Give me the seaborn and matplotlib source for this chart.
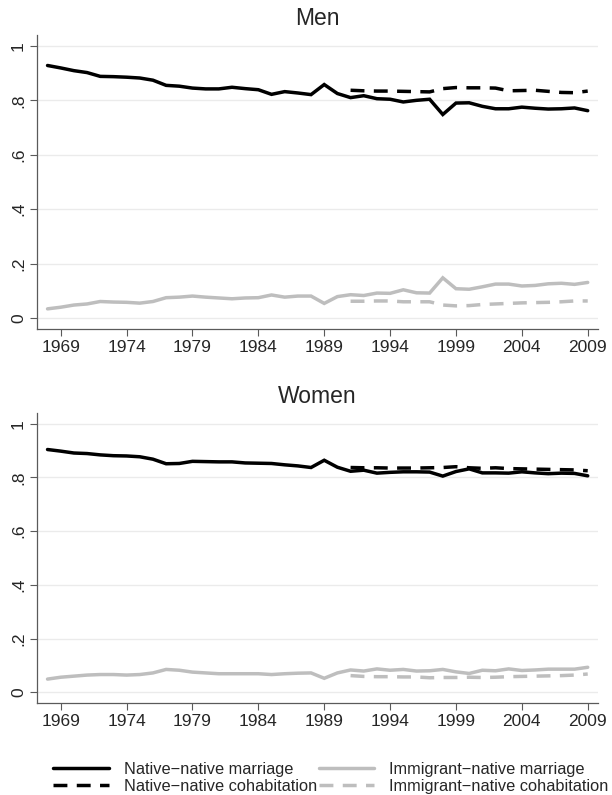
import matplotlib
matplotlib.use("Agg")
import matplotlib.pyplot as plt
import seaborn as sns
import pandas as pd
import numpy as np
from matplotlib.lines import Line2D

sns.set_style("white")
plt.rcParams["font.family"] = ["Liberation Sans", "DejaVu Sans"]

years = list(range(1968, 2010))
cohab_years = list(range(1991, 2010))

men_nn_marriage = [0.928, 0.919, 0.909, 0.902, 0.888, 0.887, 0.885, 0.882, 0.874, 0.855,
                   0.852, 0.845, 0.842, 0.842, 0.848, 0.843, 0.839, 0.822, 0.832, 0.827,
                   0.821, 0.858, 0.825, 0.810, 0.817, 0.806, 0.804, 0.794, 0.800, 0.804,
                   0.748, 0.790, 0.791, 0.778, 0.769, 0.769, 0.775, 0.771, 0.768, 0.769,
                   0.772, 0.762]
men_in_marriage = [0.034, 0.040, 0.048, 0.052, 0.061, 0.059, 0.058, 0.055, 0.061, 0.075,
                   0.077, 0.081, 0.077, 0.074, 0.071, 0.074, 0.075, 0.085, 0.077, 0.081,
                   0.081, 0.054, 0.079, 0.086, 0.083, 0.092, 0.091, 0.104, 0.093, 0.092,
                   0.148, 0.108, 0.106, 0.115, 0.125, 0.125, 0.118, 0.120, 0.126, 0.128,
                   0.124, 0.131]
men_nn_cohab = [0.837, 0.835, 0.834, 0.834, 0.833, 0.832, 0.831, 0.843, 0.847, 0.846,
                0.846, 0.845, 0.835, 0.836, 0.837, 0.833, 0.829, 0.828, 0.834]
men_in_cohab = [0.062, 0.062, 0.063, 0.063, 0.060, 0.060, 0.060, 0.048, 0.045, 0.046,
                0.050, 0.052, 0.054, 0.056, 0.057, 0.058, 0.060, 0.063, 0.063]

women_nn_marriage = [0.904, 0.898, 0.891, 0.889, 0.884, 0.881, 0.880, 0.877, 0.868, 0.851,
                     0.852, 0.860, 0.859, 0.858, 0.858, 0.854, 0.853, 0.852, 0.847, 0.843,
                     0.837, 0.864, 0.838, 0.823, 0.827, 0.816, 0.819, 0.821, 0.821, 0.820,
                     0.805, 0.822, 0.832, 0.817, 0.817, 0.816, 0.821, 0.817, 0.814, 0.816,
                     0.815, 0.806]
women_in_marriage = [0.049, 0.056, 0.060, 0.064, 0.066, 0.066, 0.064, 0.066, 0.072, 0.085,
                     0.082, 0.075, 0.072, 0.069, 0.069, 0.069, 0.069, 0.066, 0.069, 0.071,
                     0.072, 0.052, 0.072, 0.083, 0.079, 0.087, 0.082, 0.085, 0.079, 0.080,
                     0.085, 0.076, 0.070, 0.082, 0.080, 0.087, 0.081, 0.083, 0.086, 0.086,
                     0.086, 0.093]
women_nn_cohab = [0.837, 0.836, 0.836, 0.835, 0.835, 0.835, 0.836, 0.837, 0.840, 0.836,
                  0.834, 0.836, 0.833, 0.832, 0.831, 0.830, 0.829, 0.828, 0.825]
women_in_cohab = [0.062, 0.059, 0.058, 0.058, 0.057, 0.057, 0.054, 0.055, 0.055, 0.056,
                  0.055, 0.056, 0.058, 0.059, 0.060, 0.061, 0.062, 0.064, 0.068]

series_labels = ["Native\u2212native marriage", "Native\u2212native cohabitation",
                 "Immigrant\u2212native marriage", "Immigrant\u2212native cohabitation"]
xtick_years = list(range(1969, 2010, 5))
ytick_values = [0, 0.2, 0.4, 0.6, 0.8, 1.0]
ytick_labels = ["0", ".2", ".4", ".6", ".8", "1"]

BLACK = "#000000"
GRAY = "#bebebe"
LW = 2.5
DASH = (0, (4.0, 2.7))

styles = {
    series_labels[0]: dict(color=BLACK, linestyle="-"),
    series_labels[1]: dict(color=BLACK, linestyle=DASH),
    series_labels[2]: dict(color=GRAY, linestyle="-"),
    series_labels[3]: dict(color=GRAY, linestyle=DASH),
}

W, H = 612, 795
fig = plt.figure(figsize=(W / 100, H / 100), dpi=100)
left, right = 37, 598
ax_men = fig.add_axes([left / W, 1 - 329 / H, (right - left) / W, (329 - 35) / H])
ax_women = fig.add_axes([left / W, 1 - 703 / H, (right - left) / W, (703 - 413) / H])


def draw_panel(ax, title, nn_m, in_m, nn_c, in_c):
    data = [
        (series_labels[0], years, nn_m),
        (series_labels[2], years, in_m),
        (series_labels[1], cohab_years, nn_c),
        (series_labels[3], cohab_years, in_c),
    ]
    for label, xs, ys in data:
        df = pd.DataFrame({"year": xs, "share": ys})
        st = styles[label]
        sns.lineplot(data=df, x="year", y="share", ax=ax, color=st["color"],
                     linewidth=LW, linestyle=st["linestyle"], legend=False,
                     solid_joinstyle="miter", dash_capstyle="butt", zorder=3)
    ax.set_xlim(1967.2, 2009.78)
    ax.set_ylim(-0.04, 1.04)
    ax.set_xticks(xtick_years)
    ax.set_xticklabels([str(y) for y in xtick_years], fontsize=12.5)
    ax.set_yticks(ytick_values)
    ax.set_yticklabels(ytick_labels, fontsize=12.5, rotation=90, va="center")
    ax.set_xlabel("")
    ax.set_ylabel("")
    ax.grid(axis="y", color="#ebebeb", linewidth=1.0, zorder=0)
    ax.grid(axis="x", visible=False)
    for side in ("top", "right"):
        ax.spines[side].set_visible(False)
    for side in ("left", "bottom"):
        ax.spines[side].set_color("#5a5a5a")
        ax.spines[side].set_linewidth(0.9)
    ax.tick_params(axis="both", direction="out", length=5, width=0.8,
                   color="#5a5a5a", pad=3, left=True, bottom=True)
    ax.set_title(title, fontsize=16.5, pad=7)


draw_panel(ax_men, "Men", men_nn_marriage, men_in_marriage, men_nn_cohab, men_in_cohab)
draw_panel(ax_women, "Women", women_nn_marriage, women_in_marriage, women_nn_cohab, women_in_cohab)

handles = [Line2D([], [], linewidth=LW, **styles[lab]) for lab in series_labels]
fig.legend(handles, series_labels, ncol=2, loc="upper left",
           bbox_to_anchor=(45 / W, 1 - 754 / H), frameon=False,
           fontsize=11.8, handlelength=3.4, handletextpad=0.9,
           columnspacing=0.1, labelspacing=0.08, borderpad=0.0)

fig.savefig("out.png", dpi=100)
